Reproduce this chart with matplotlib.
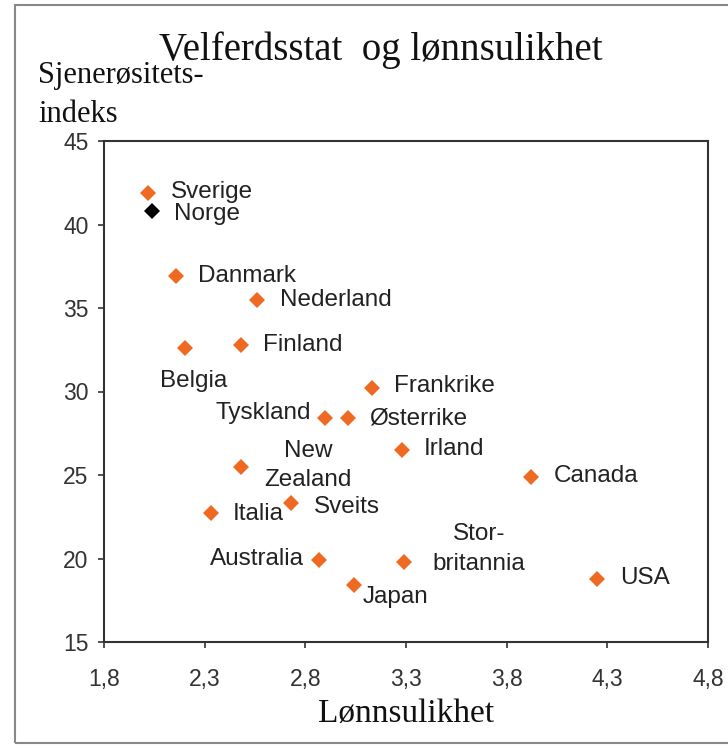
import matplotlib.pyplot as plt
from matplotlib.patches import Rectangle

# data
countries = ['Sverige', 'Norge', 'Danmark', 'Nederland', 'Finland', 'Belgia',
             'Frankrike', 'Tyskland', 'Østerrike', 'Irland', 'New\nZealand',
             'Canada', 'Sveits', 'Italia', 'Australia', 'Stor-\nbritannia',
             'Japan', 'USA']
lonnsulikhet = [2.02, 2.04, 2.16, 2.56, 2.48, 2.20, 3.13, 2.90, 3.01, 3.28,
                2.48, 3.92, 2.73, 2.33, 2.87, 3.29, 3.04, 4.25]
sjenerositet = [41.9, 40.8, 36.9, 35.5, 32.8, 32.6, 30.2, 28.4, 28.4, 26.5,
                25.5, 24.9, 23.3, 22.7, 19.9, 19.8, 18.4, 18.8]

xticks = [1.8, 2.3, 2.8, 3.3, 3.8, 4.3, 4.8]
yticks = [15, 20, 25, 30, 35, 40, 45]

# label placement (pixel offsets from the point, horizontal alignment)
offsets = {
    'Sverige': (23, 1, 'left'), 'Norge': (22, -3, 'left'),
    'Danmark': (22, 0, 'left'), 'Nederland': (23, 0, 'left'),
    'Finland': (22, 0, 'left'), 'Belgia': (9, -33, 'center'),
    'Frankrike': (22, 2, 'left'), 'Tyskland': (-14, 5, 'right'),
    'Østerrike': (22, 0, 'left'), 'Irland': (22, 1, 'left'),
    'New\nZealand': (67, 1, 'center'), 'Canada': (23, 1, 'left'),
    'Sveits': (23, -4, 'left'), 'Italia': (22, -1, 'left'),
    'Australia': (-15, 1, 'right'), 'Stor-\nbritannia': (75, 13, 'center'),
    'Japan': (9, -12, 'left'), 'USA': (23, 1, 'left'),
}

orange = '#EE6A22'

fig = plt.figure(figsize=(7.28, 7.48), dpi=100)
ax = fig.add_axes([104/728, 106/748, 604/728, 501/748])

for name, x, y in zip(countries, lonnsulikhet, sjenerositet):
    col = 'black' if name == 'Norge' else orange
    ax.plot(x, y, 'D', color=col, markersize=8, markeredgewidth=0)
    dx, dy, ha = offsets[name]
    ax.annotate(name, (x, y), xytext=(dx, dy), textcoords='offset pixels',
                ha=ha, va='center', fontsize=17.5, color='#222222',
                family='Liberation Sans', linespacing=1.45)

ax.set_xlim(1.8, 4.8)
ax.set_ylim(15, 45)
ax.set_xticks(xticks)
ax.set_xticklabels([str(t).replace('.', ',') for t in xticks])
ax.set_yticks(yticks)
for lab in ax.get_xticklabels() + ax.get_yticklabels():
    lab.set_family('Liberation Sans')
ax.tick_params(axis='both', labelsize=16.5, colors='#333333', width=1.2,
               length=4)
ax.tick_params(axis='x', pad=15)
ax.tick_params(axis='y', pad=7)
for sp in ax.spines.values():
    sp.set_linewidth(1.5)
    sp.set_color('#333333')

fig.text(381/728, 1 - 60/748, 'Velferdsstat  og lønnsulikhet',
         ha='center', va='baseline', fontsize=28, family='Liberation Serif',
         color='#111111')
fig.text(38/728, 1 - 61/748, 'Sjenerøsitets-\nindeks', ha='left', va='top',
         fontsize=22, family='Liberation Serif', color='#111111',
         linespacing=1.45)
fig.text(406/728, 1 - 714/748, 'Lønnsulikhet', ha='center', va='center',
         fontsize=24, family='Liberation Serif', color='#111111')

# grey frame around the picture
fig.patches.append(Rectangle((15/728, 5/748), 800/728, 738/748,
                             transform=fig.transFigure, fill=False,
                             edgecolor='#888888', linewidth=1.5))

plt.savefig('out.png', dpi=100)
